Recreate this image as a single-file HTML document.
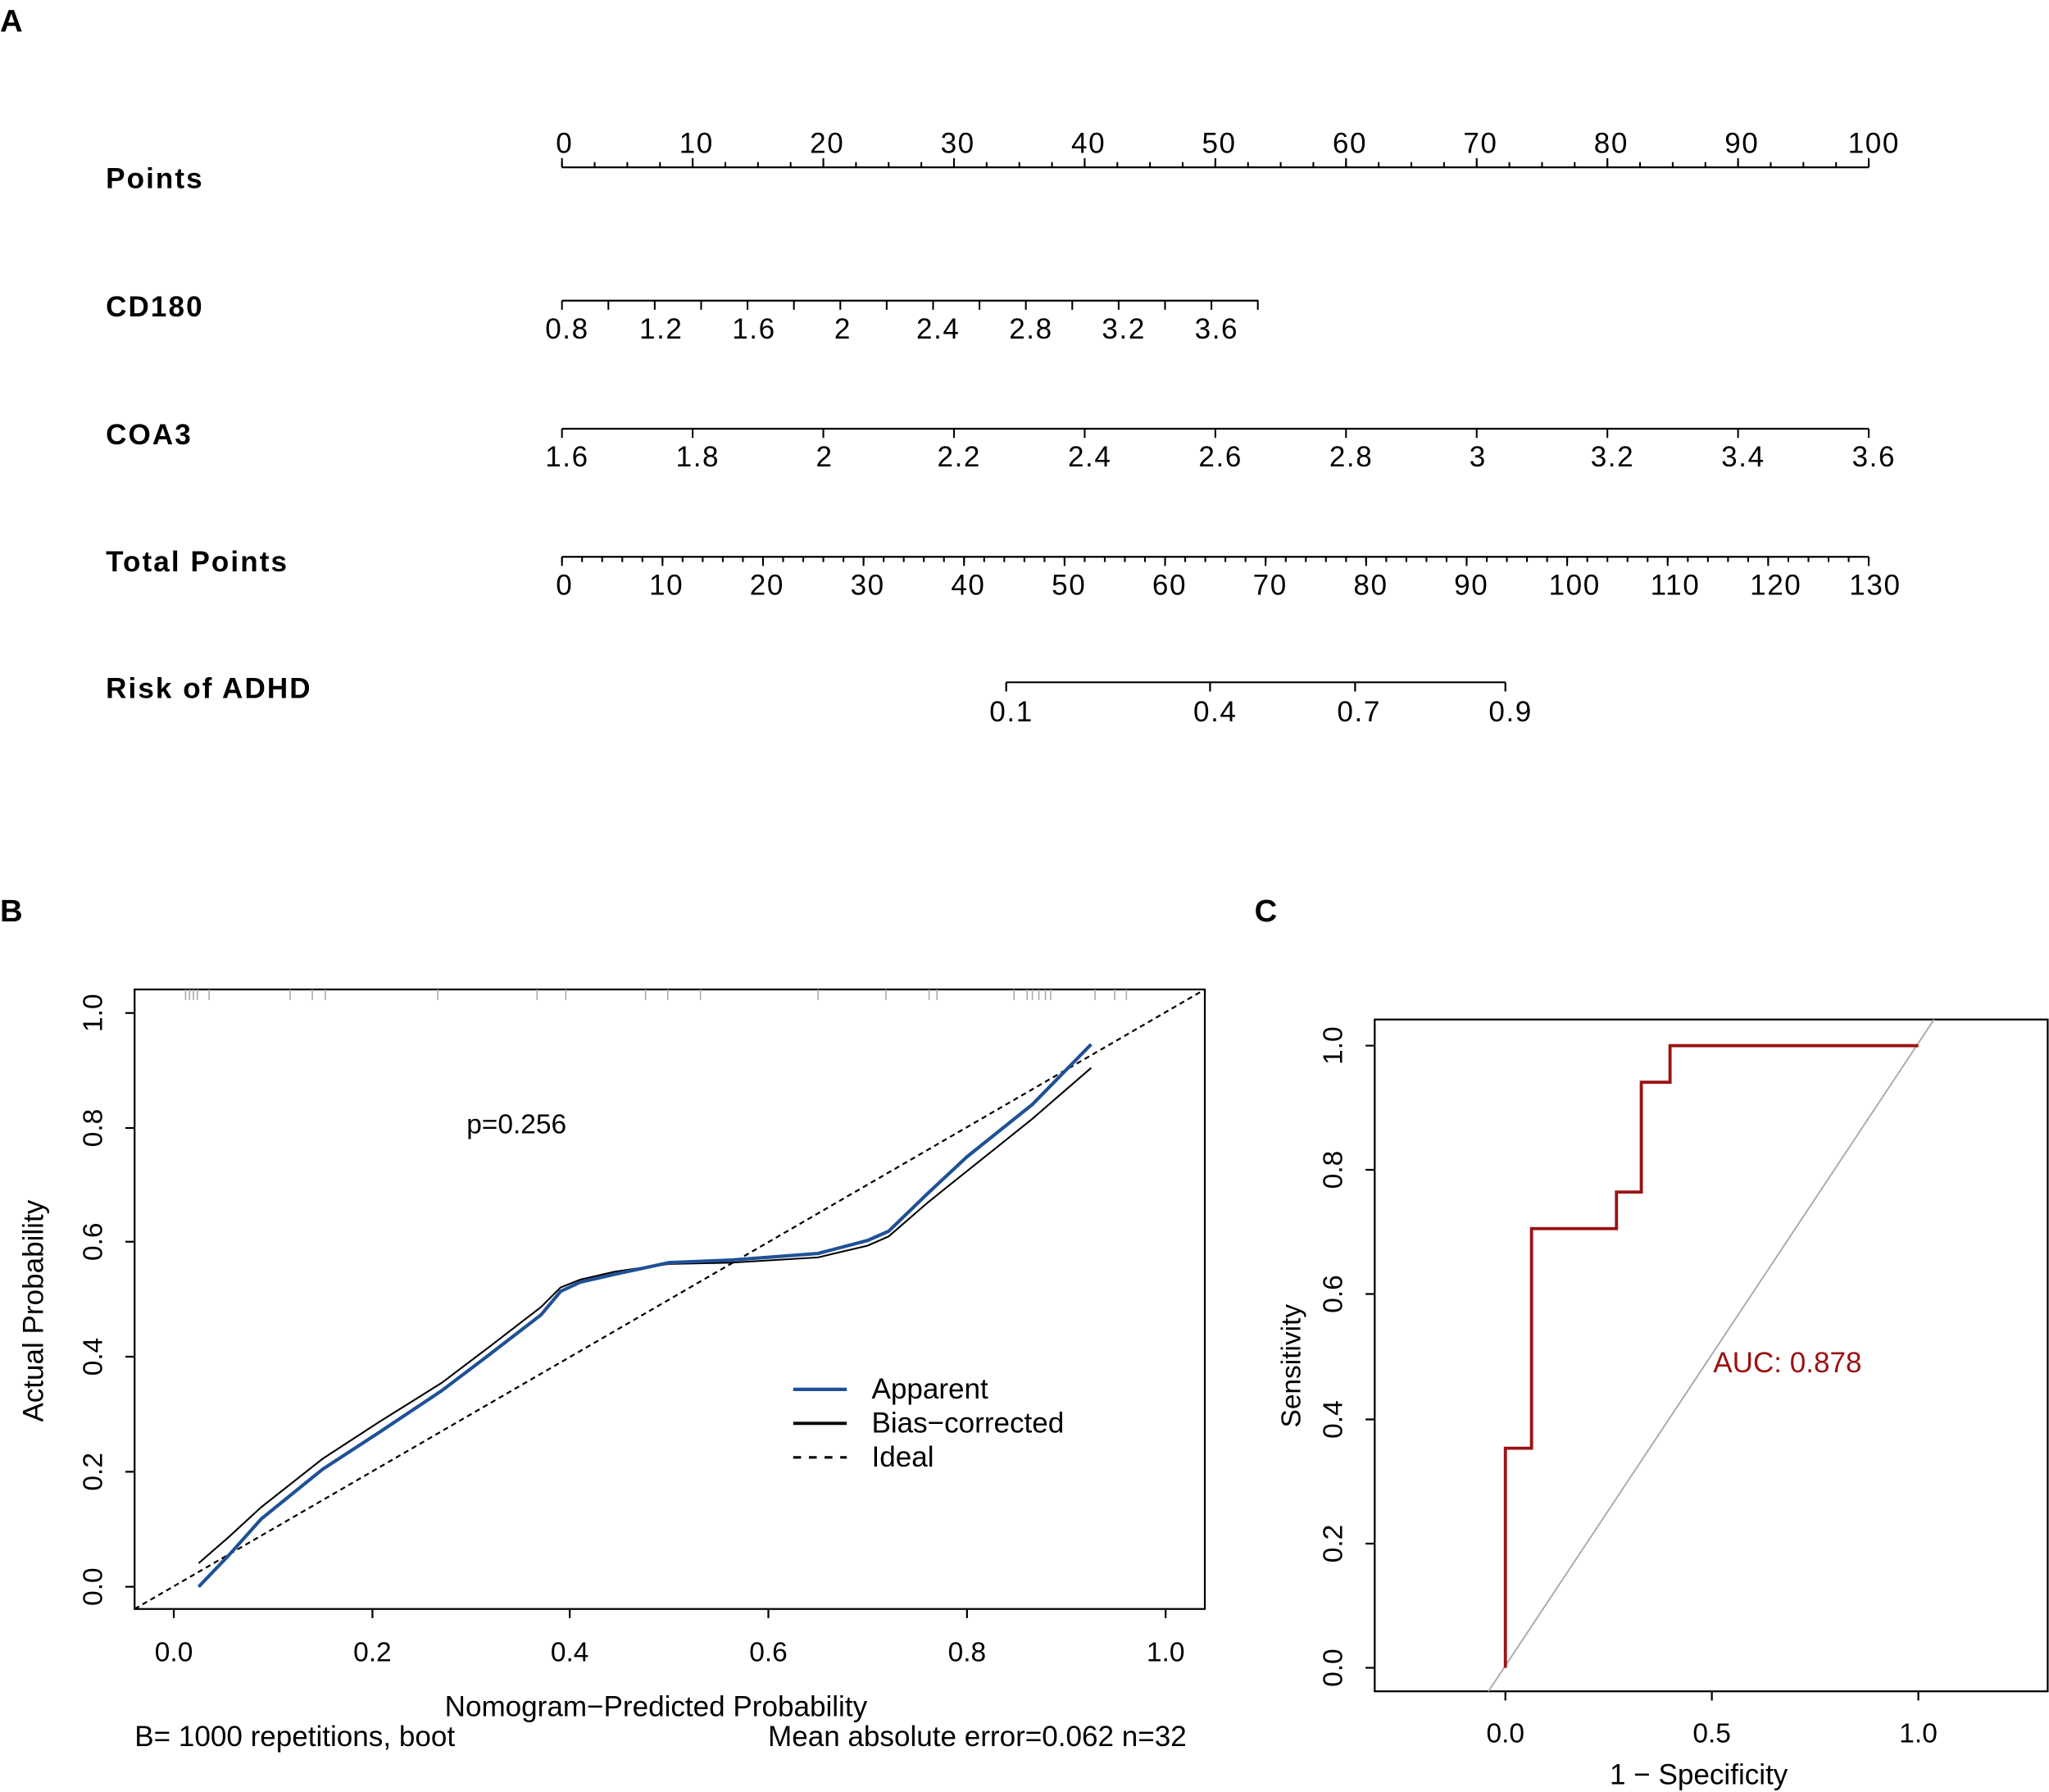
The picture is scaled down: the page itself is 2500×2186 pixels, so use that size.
<!DOCTYPE html>
<html><head><meta charset="utf-8"><style>
html,body{margin:0;padding:0;background:#fff}
svg{display:block}
text{font-family:"Liberation Sans",Arial,sans-serif;fill:#000}
</style></head><body>
<svg width="2500" height="2186" viewBox="0 0 1568 1371" xmlns="http://www.w3.org/2000/svg">
<rect width="1568" height="1371" fill="#fff"/>
<g font-weight="bold" font-size="24">
<text x="0" y="24">A</text><text x="0" y="705">B</text><text x="960" y="705">C</text>
</g>
<g font-weight="bold" font-size="22" letter-spacing="1.3">
<text x="81" y="144">Points</text>
<text x="81" y="242">CD180</text>
<text x="81" y="340">COA3</text>
<text x="81" y="437">Total Points</text>
<text x="81" y="534">Risk of ADHD</text>
</g>
<g stroke="#000" stroke-width="1.4" fill="none">
<line x1="430" y1="128" x2="1430" y2="128"/>
<line x1="429.4" y1="126" x2="1431" y2="126" stroke-width="4" stroke-dasharray="1.3 23.7"/>
<line x1="429.4" y1="124.5" x2="1431" y2="124.5" stroke-width="7" stroke-dasharray="1.3 98.7"/>
<line x1="430" y1="230" x2="963" y2="230"/>
<line x1="429.4" y1="233.5" x2="964" y2="233.5" stroke-width="7" stroke-dasharray="1.3 34.2"/>
<line x1="430" y1="328" x2="1430" y2="328"/>
<line x1="429.4" y1="331.5" x2="1431" y2="331.5" stroke-width="7" stroke-dasharray="1.3 98.7"/>
<line x1="430" y1="426" x2="1430" y2="426"/>
<line x1="429.4" y1="428" x2="1431" y2="428" stroke-width="4" stroke-dasharray="1.3 14.085"/>
<line x1="429.4" y1="429.5" x2="1431" y2="429.5" stroke-width="7" stroke-dasharray="1.3 75.62"/>
<line x1="770" y1="522" x2="1152" y2="522"/>
<path d="M770 522v7M926 522v7M1037 522v7M1152 522v7"/>
</g>
<g font-size="22" text-anchor="middle" letter-spacing="1">
<text x="432" y="117">0</text><text x="533" y="117">10</text><text x="633" y="117">20</text><text x="733" y="117">30</text><text x="833" y="117">40</text><text x="933" y="117">50</text><text x="1033" y="117">60</text><text x="1133" y="117">70</text><text x="1233" y="117">80</text><text x="1333" y="117">90</text><text x="1434" y="117">100</text>
<text x="434" y="259">0.8</text><text x="506" y="259">1.2</text><text x="577" y="259">1.6</text><text x="645" y="259">2</text><text x="718" y="259">2.4</text><text x="789" y="259">2.8</text><text x="860" y="259">3.2</text><text x="931" y="259">3.6</text>
<text x="434" y="357">1.6</text><text x="534" y="357">1.8</text><text x="631" y="357">2</text><text x="734" y="357">2.2</text><text x="834" y="357">2.4</text><text x="934" y="357">2.6</text><text x="1034" y="357">2.8</text><text x="1131" y="357">3</text><text x="1234" y="357">3.2</text><text x="1334" y="357">3.4</text><text x="1434" y="357">3.6</text>
<text x="432" y="455">0</text><text x="510" y="455">10</text><text x="587" y="455">20</text><text x="664" y="455">30</text><text x="741" y="455">40</text><text x="818" y="455">50</text><text x="895" y="455">60</text><text x="972" y="455">70</text><text x="1049" y="455">80</text><text x="1126" y="455">90</text><text x="1205" y="455">100</text><text x="1282" y="455">110</text><text x="1359" y="455">120</text><text x="1435" y="455">130</text>
<text x="774" y="552">0.1</text><text x="930" y="552">0.4</text><text x="1040" y="552">0.7</text><text x="1156" y="552">0.9</text>
</g>

<rect x="103" y="757" width="819" height="474" fill="none" stroke="#000" stroke-width="1.4"/>
<g stroke="#000" stroke-width="1.4">
<path d="M103 1214h-7M103 1126h-7M103 1038h-7M103 950h-7M103 863h-7M103 775h-7"/>
<path d="M133 1231v7M285 1231v7M436 1231v7M588 1231v7M740 1231v7M892 1231v7"/>
</g>
<g stroke="#aaa" stroke-width="1">
<path d="M142 757v8M145 757v8M148 757v8M151 757v8M160 757v8M222 757v8M239 757v8M249 757v8M335 757v8M411 757v8M433 757v8M494 757v8M511 757v8M536 757v8M626 757v8M678 757v8M711 757v8M717 757v8M776 757v8M786 757v8M790 757v8M795 757v8M800 757v8M804 757v8M838 757v8M853 757v8M862 757v8"/>
</g>
<g font-size="21" text-anchor="middle">
<text transform="translate(78 1214) rotate(-90)">0.0</text>
<text transform="translate(78 1126) rotate(-90)">0.2</text>
<text transform="translate(78 1038) rotate(-90)">0.4</text>
<text transform="translate(78 950) rotate(-90)">0.6</text>
<text transform="translate(78 863) rotate(-90)">0.8</text>
<text transform="translate(78 775) rotate(-90)">1.0</text>
<text transform="translate(33 1003) rotate(-90)" font-size="22">Actual Probability</text>
<text x="133" y="1271">0.0</text><text x="285" y="1271">0.2</text><text x="436" y="1271">0.4</text><text x="588" y="1271">0.6</text><text x="740" y="1271">0.8</text><text x="892" y="1271">1.0</text>
<text x="502" y="1313" font-size="22">Nomogram−Predicted Probability</text>
</g>
<text x="103" y="1336" font-size="22">B= 1000 repetitions, boot</text>
<text x="908" y="1336" font-size="22" text-anchor="end">Mean absolute error=0.062 n=32</text>
<text x="357" y="867" font-size="21">p=0.256</text>
<line x1="103" y1="1231" x2="922" y2="757" stroke="#000" stroke-width="1.4" stroke-dasharray="4 3"/>
<polyline fill="none" stroke="#000" stroke-width="1.3" points="152,1196 175,1176 200,1153 247,1116 290,1088 338,1058 375,1030 414,1000 429,985 444,979 470,973 512,967 560,966 626,962 664,953 680,946 710,920 740,896 790,856 835,817"/>
<polyline fill="none" stroke="#1f5196" stroke-width="2.6" points="152,1214 175,1190 200,1162 247,1124 290,1096 338,1064 375,1036 414,1006 429,988 444,981 470,975 512,966 560,964 626,959 664,949 680,942 710,913 740,885 790,845 835,799"/>
<line x1="607" y1="1063" x2="648" y2="1063" stroke="#1f5196" stroke-width="2.6"/>
<line x1="607" y1="1089" x2="648" y2="1089" stroke="#000" stroke-width="2.4"/>
<line x1="607" y1="1115" x2="648" y2="1115" stroke="#000" stroke-width="2" stroke-dasharray="6 6"/>
<g font-size="22"><text x="667" y="1070">Apparent</text><text x="667" y="1096">Bias−corrected</text><text x="667" y="1122">Ideal</text></g>

<rect x="1052" y="780" width="515" height="514" fill="none" stroke="#000" stroke-width="1.4"/>
<g stroke="#000" stroke-width="1.4">
<path d="M1052 1276h-7M1052 1181h-7M1052 1086h-7M1052 990h-7M1052 895h-7M1052 800h-7"/>
<path d="M1152 1294v7M1310 1294v7M1468 1294v7"/>
</g>
<g font-size="21" text-anchor="middle">
<text transform="translate(1027 1276) rotate(-90)">0.0</text>
<text transform="translate(1027 1181) rotate(-90)">0.2</text>
<text transform="translate(1027 1086) rotate(-90)">0.4</text>
<text transform="translate(1027 990) rotate(-90)">0.6</text>
<text transform="translate(1027 895) rotate(-90)">0.8</text>
<text transform="translate(1027 800) rotate(-90)">1.0</text>
<text transform="translate(995 1045) rotate(-90)">Sensitivity</text>
<text x="1152" y="1333">0.0</text><text x="1310" y="1333">0.5</text><text x="1468" y="1333">1.0</text>
<text x="1300" y="1365" font-size="22">1 − Specificity</text>
</g>
<line x1="1139" y1="1294" x2="1480" y2="780" stroke="#aaa" stroke-width="1.2"/>
<polyline fill="none" stroke="#9b1212" stroke-width="2.4" points="1152,1276 1152,1108 1172,1108 1172,940 1237,940 1237,912 1256,912 1256,828 1278,828 1278,800 1468,800"/>
<text x="1311" y="1050" font-size="22" style="fill:#9b1212">AUC: 0.878</text>
</svg>
</body></html>
